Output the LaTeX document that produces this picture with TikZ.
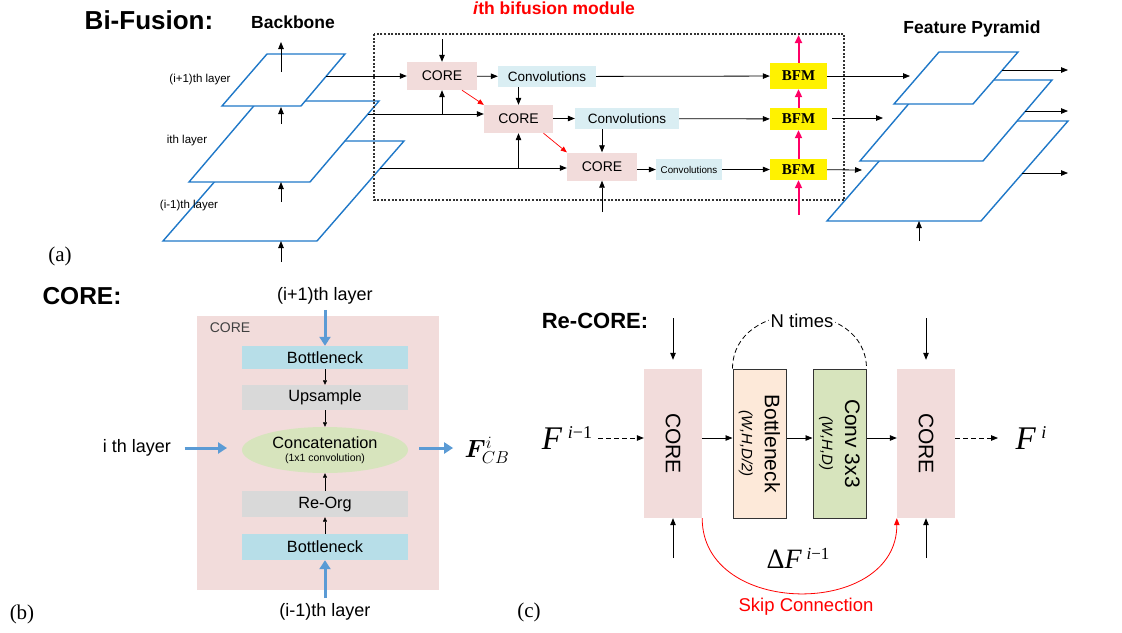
\documentclass[tikz,border=0pt]{standalone}
\usepackage{fontspec}
\setmainfont{Liberation Serif}
\setsansfont{Liberation Sans}
\usepackage{bm}
\usetikzlibrary{arrows.meta,shapes.geometric}
\definecolor{corepink}{HTML}{F2DCDB}
\definecolor{convblue}{HTML}{DAEEF3}
\definecolor{bnblue}{HTML}{B7DEE8}
\definecolor{grayfill}{HTML}{D9D9D9}
\definecolor{catgreen}{HTML}{D7E4BD}
\definecolor{peach}{HTML}{FDE9D9}
\definecolor{planeblue}{HTML}{1F78C8}
\definecolor{bfmpink}{HTML}{FF0066}
\definecolor{arrowblue}{HTML}{5B9BD5}
\newcommand\fsz[1]{\fontsize{#1}{#1}\selectfont}
\tikzset{
  plane/.style={draw=planeblue, line width=1.4pt, fill=white},
  arr/.style={-{Triangle[length=7pt,width=5.5pt]}, line width=0.8pt},
  sarr/.style={-{Triangle[length=4.5pt,width=4pt]}, line width=0.6pt},
  redarr/.style={-{Triangle[length=6pt,width=5pt]}, line width=0.7pt, red},
  parr/.style={-{Triangle[length=8pt,width=7pt]}, line width=2pt, bfmpink},
  barr/.style={-{Triangle[length=9pt,width=11pt]}, line width=3pt, arrowblue},
  dsh/.style={dash pattern=on 5pt off 3pt},
  core/.style={fill=corepink, minimum width=70pt, minimum height=28pt, inner sep=0pt, font=\sffamily\fsz{14}},
  conv/.style={fill=convblue, minimum width=98pt, minimum height=21pt, inner sep=0pt, font=\sffamily\fsz{13.5}},
  bfm/.style={fill=yellow, minimum width=57pt, minimum height=24pt, inner sep=0pt, font=\bfseries\fsz{15}},
  lbl/.style={font=\sffamily\fsz{11.5}},
  title/.style={font=\sffamily\bfseries\fsz{17.5}},
  blk/.style={minimum width=166pt, inner sep=0pt, font=\sffamily\fsz{16.3}},
  tall/.style={minimum width=58pt, minimum height=149pt, inner sep=0pt},
}
\begin{document}
\begin{tikzpicture}[x=1pt,y=-1pt]
\useasboundingbox (0,0) rectangle (1122,632);

% ================= (a) =================
\node[font=\sffamily\bfseries\fsz{26}] (tbf) at (149,20) {Bi-Fusion:};
\node[title] (tbb) at (293,22) {Backbone};
\node[title, red] (tmod) at (554,8) {\textit{i}th bifusion module};
\node[title] (tfp) at (972,29) {Feature Pyramid};

% backbone planes
\draw[plane] (163,241) -- (317,241) -- (404,141) -- (250,141) -- cycle;
\draw[plane] (189,182) -- (310,182) -- (379,101) -- (258,101) -- cycle;
\draw[plane] (222,106) -- (301,106) -- (345,54) -- (267,54) -- cycle;
\draw[arr] (281,72) -- (281,42);
\draw[arr] (281,124) -- (281,107);
\draw[arr] (281,202) -- (281,182);
\draw[arr] (281,262) -- (281,241);
\node[lbl] (l1) at (200,80) {(i+1)th layer};
\node[lbl] (l2) at (187,141) {ith layer};
\node[lbl] (l3) at (189,206) {(i-1)th layer};
\node[font=\fsz{21}] (la) at (60,256) {(a)};

% feature pyramid planes
\draw[plane] (827,221) -- (981,221) -- (1068,121) -- (914,121) -- cycle;
\draw[plane] (860,161) -- (983,161) -- (1052,80) -- (929,80) -- cycle;
\draw[plane] (894,104) -- (973,104) -- (1018,52) -- (939,52) -- cycle;
\draw[arr] (1002,70) -- (1068,70);
\draw[arr] (1025,111) -- (1068,111);
\draw[arr] (1022,173) -- (1068,173);
\draw[arr] (919,241) -- (919,221);

% module box
\draw[dash pattern=on 2pt off 1.6pt, line width=1.3pt, black!80] (374,34) rectangle (844,200);

\node[core] (c1) at (442,76) {CORE};
\node[conv] (v1) at (547,76.5) {Convolutions};
\node[core, minimum width=69pt] (c2) at (518.5,119) {CORE};
\node[conv, minimum width=104pt] (v2) at (627,118.5) {Convolutions};
\node[core] (c3) at (602,166.5) {CORE};
\node[conv, minimum width=66pt, font=\sffamily\fsz{9.8}] (v3) at (689,169.5) {Convolutions};
\node[bfm, minimum height=26pt] (b1) at (798.5,76) {BFM};
\node[bfm, minimum height=22pt] (b2) at (798.5,119) {BFM};
\node[bfm, minimum height=21pt] (b3) at (798.5,169.5) {BFM};

% row 1
\coordinate (r1) at (326,76);
\draw[arr] (r1) -- (c1);
\coordinate (t1) at (442,39);
\draw[arr] (t1) -- (c1);
\draw[arr] (c1) -- (v1);
\draw[arr] (v1) -- (b1);
\coordinate (f1) at (910,76);
\draw[arr] (b1) -- (f1);
\draw[arr] (v1.south -| c2) -- (c2);
\draw[redarr] ([xshift=20pt]c1.south) -- (c2.north west);
% row 2
\coordinate (r2) at (368,114);
\draw[arr] (r2) -- (r2 -| c2.west);
\draw[arr] (c1.south |- r2) -- (c1.south);
\draw[arr] (c2.east |- v2) -- (v2);
\draw[arr] (v2) -- (b2);
\coordinate (f2) at (883,118);
\draw[arr] ([xshift=5pt]b2.east |- f2) -- (f2);
\draw[arr] (v2.south -| c3) -- (c3);
\draw[redarr] ([xshift=25pt]c2.south) -- (c3.north west);
% row 3
\coordinate (r3) at (380,168);
\draw[arr] (r3) -- (r3 -| c3.west);
\draw[arr] (c2.south |- r3) -- (c2.south);
\coordinate (u3) at (602,212);
\draw[arr] (u3) -- (c3.south);
\draw[arr] (c3.east |- v3) -- (v3);
\draw[arr] (v3) -- (b3);
\coordinate (f3) at (862,170);
\draw[arr] (b3) -- (f3);
% BFM pink arrows
\coordinate (bt) at (798.5,35);
\coordinate (bb) at (798.5,215);
\draw[parr] (b1) -- (bt);
\draw[parr] (b2) -- (b1);
\draw[parr] (b3) -- (b2);
\draw[parr] (bb) -- (b3);

% ================= (b) =================
\node[font=\sffamily\bfseries\fsz{24.5}] (tcore) at (82,296) {CORE:};
\node[fill=corepink, minimum width=242pt, minimum height=274pt, inner sep=0pt] (cbox) at (318,453) {};
\node[font=\sffamily\fsz{14}, text=black!75] (clab) at (230,328) {CORE};
\node[blk, fill=bnblue, minimum height=23pt] (bn1) at (325,357.5) {Bottleneck};
\node[blk, fill=grayfill, minimum height=25pt] (ups) at (325,397.5) {Upsample};
\node[ellipse, fill=catgreen, minimum width=166pt, minimum height=46pt, inner sep=0pt, align=center, font=\sffamily\fsz{16.3}] (cat) at (325,450)
  {Concatenation\\[-3pt]{\fsz{10.5}(1x1 convolution)}};
\node[blk, fill=grayfill, minimum height=26pt] (reorg) at (325,504) {Re-Org};
\node[blk, fill=bnblue, minimum height=26pt] (bn2) at (325,547) {Bottleneck};
\draw[sarr] (bn1) -- (ups);
\draw[sarr] (ups) -- (cat);
\draw[sarr] (reorg) -- (cat);
\draw[sarr] (bn2) -- (reorg);
\node[font=\sffamily\fsz{18}] (lu) at (325,296) {(i+1)th layer};
\node[font=\sffamily\fsz{18}] (ld) at (325,612) {(i-1)th layer};
\node[font=\sffamily\fsz{18}] (lm) at (137,448) {i th layer};
\node[font=\fsz{24}] (fcb) at (487,450) {$\bm{F}^{i}_{CB}$};
\draw[barr, shorten <=2pt] (lu) -- (bn1);
\draw[barr, shorten <=2pt] (ld) -- (bn2);
\coordinate (ci) at (227,448);
\draw[barr, shorten <=10pt] (lm) -- (ci);
\coordinate (co) at (419,448);
\draw[barr, shorten >=8pt] (co) -- (fcb.west |- co);
\node[font=\fsz{21}] (lb) at (22,614) {(b)};

% ================= (c) =================
\node[font=\sffamily\bfseries\fsz{22}] (trc) at (595,321) {Re-CORE:};
\node[tall, fill=corepink] (ca) at (673,443.5) {};
\node[rotate=-90, font=\sffamily\fsz{21}] (cat1) at (ca) {CORE};
\node[tall, minimum width=53pt, fill=peach, draw=black!80, line width=1pt] (bneck) at (759.5,443.5) {};
\node[rotate=-90, align=center, font=\sffamily\fsz{21}] (bnt) at (bneck) {Bottleneck\\[2pt]{\itshape\fsz{15}(W,H,D/2)}};
\node[tall, minimum width=53pt, fill=catgreen, draw=black!80, line width=1pt] (cv) at (839.5,443.5) {};
\node[rotate=-90, align=center, font=\sffamily\fsz{21}] (cvt) at (cv) {Conv 3x3\\[2pt]{\itshape\fsz{15}(W,H,D)}};
\node[tall, fill=corepink] (cb2) at (926,443.5) {};
\node[rotate=-90, font=\sffamily\fsz{21}] (cbt) at (cb2) {CORE};
\coordinate (m) at (0,438);
\draw[arr] (ca.east |- m) -- (bneck.west |- m);
\draw[arr] (bneck.east |- m) -- (cv.west |- m);
\draw[arr] (cv.east |- m) -- (cb2.west |- m);
\coordinate (ta) at (673,318);
\coordinate (ba) at (673,558);
\draw[arr, shorten >=9pt] (ta) -- (ca.north);
\draw[arr] (ba) -- (ca.south);
\coordinate (tb) at (926,318);
\coordinate (bbb) at (926,558);
\draw[arr, shorten >=9pt] (tb) -- (cb2.north);
\draw[arr] (bbb) -- (cb2.south);
\node[font=\fsz{33}] (fin) at (567,438) {\textit{F}\,\raisebox{11pt}{\fsz{18}\textit{i}−1}};
\node[font=\fsz{33}] (fout) at (1031,438) {\textit{F}\,\raisebox{11pt}{\fsz{18}\textit{i}}};
\coordinate (di) at (598,438);
\coordinate (dout) at (998,438);
\draw[arr, dsh] (di) -- (ca.west |- m);
\draw[arr, dsh] (cb2.east |- m) -- (dout);
\draw[dsh, line width=0.8pt] (bneck.north west) .. controls (733,297) and (866,297) .. (cv.north east);
\node[fill=white, inner sep=2pt, font=\sffamily\fsz{18.5}] (nt) at (802,321) {N times};
\draw[red, line width=0.8pt, -{Triangle[length=7pt,width=5.5pt]}] (ca.south east) .. controls (702,618) and (897,618) .. (cb2.south west);
\node[font=\fsz{28}] (df) at (798,558) {Δ\textit{F}\,\raisebox{9pt}{\fsz{17}\textit{i}−1}};
\node[font=\sffamily\fsz{18.5}, red] (skip) at (806,607) {Skip Connection};
\node[font=\fsz{21}] (lc) at (529,612) {(c)};
\end{tikzpicture}
\end{document}
